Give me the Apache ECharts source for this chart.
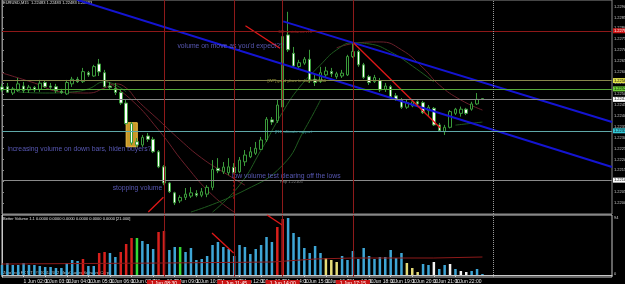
<!DOCTYPE html>
<html><head><meta charset="utf-8">
<script src="https://cdn.jsdelivr.net/npm/echarts@6/dist/echarts.min.js"></script>
<style>html,body{margin:0;padding:0;background:#000;}#c{width:625px;height:284px;}</style>
</head><body><div id="c"></div>
<script>
// ---------- DATA ----------
const symbolTitle = 'EURUSD,M15  1.22483 1.22483 1.22483 1.22483';
const slotCount = 114;
const tickLabels = ['1 Jun 2012','1 Jun 02:00','1 Jun 03:00','1 Jun 04:00','1 Jun 05:00','1 Jun 06:00','1 Jun 07:00','1 Jun 08:00','1 Jun 09:00','1 Jun 10:00','1 Jun 11:00','1 Jun 12:00','1 Jun 13:00','1 Jun 14:00','1 Jun 15:00','1 Jun 16:00','1 Jun 17:00','1 Jun 18:00','1 Jun 19:00','1 Jun 20:00','1 Jun 21:00','1 Jun 22:00','1 Jun 23:00'];
const tickEvery = 4;
const open = [1.22532,1.22533,1.22504,1.22515,1.22536,1.22518,1.22529,1.22521,1.22552,1.22536,1.22533,1.22512,1.22500,1.22546,1.22567,1.22556,1.22597,1.22582,1.22637,1.22597,1.22536,1.22526,1.22506,1.22458,1.22364,1.22281,1.22266,1.22307,1.22292,1.22235,1.22166,1.22092,1.22047,1.22010,1.22026,1.22032,1.22044,1.22036,1.22041,1.22072,1.22159,1.22143,1.22139,1.22164,1.22143,1.22189,1.22212,1.22228,1.22246,1.22289,1.22381,1.22377,1.22440,1.22770,1.22686,1.22625,1.22641,1.22659,1.22567,1.22556,1.22587,1.22602,1.22579,1.22582,1.22587,1.22671,1.22694,1.22633,1.22579,1.22556,1.22561,1.22521,1.22533,1.22491,1.22472,1.22439,1.22445,1.22464,1.22460,1.22423,1.22434,1.22358,1.22327,1.22347,1.22411,1.22411,1.22430,1.22430,1.22454,1.22478];
const close = [1.22518,1.22508,1.22523,1.22546,1.22515,1.22531,1.22518,1.22549,1.22533,1.22531,1.22515,1.22506,1.22552,1.22567,1.22556,1.22602,1.22587,1.22625,1.22601,1.22533,1.22529,1.22506,1.22458,1.22364,1.22275,1.22266,1.22301,1.22292,1.22235,1.22166,1.22092,1.22052,1.22001,1.22026,1.22041,1.22047,1.22036,1.22052,1.22072,1.22154,1.22148,1.22165,1.22166,1.22139,1.22197,1.22220,1.22235,1.22251,1.22289,1.22384,1.22371,1.22449,1.22763,1.22702,1.22628,1.22643,1.22659,1.22564,1.22552,1.22597,1.22605,1.22592,1.22592,1.22595,1.22671,1.22694,1.22633,1.22576,1.22552,1.22575,1.22518,1.22536,1.22487,1.22475,1.22439,1.22460,1.22464,1.22454,1.22414,1.22439,1.22358,1.22331,1.22347,1.22419,1.22430,1.22430,1.22411,1.22454,1.22475,1.22475];
const low = [1.22509,1.22504,1.22495,1.22509,1.22504,1.22504,1.22509,1.22509,1.22527,1.22523,1.22504,1.22500,1.22495,1.22532,1.22550,1.22550,1.22578,1.22578,1.22582,1.22530,1.22518,1.22495,1.22449,1.22358,1.22266,1.22257,1.22257,1.22280,1.22229,1.22160,1.22082,1.22046,1.21991,1.22000,1.22014,1.22023,1.22027,1.22027,1.22027,1.22059,1.22137,1.22133,1.22128,1.22137,1.22137,1.22170,1.22206,1.22220,1.22243,1.22280,1.22358,1.22367,1.22426,1.22692,1.22619,1.22619,1.22633,1.22550,1.22536,1.22550,1.22573,1.22578,1.22569,1.22573,1.22582,1.22665,1.22624,1.22569,1.22541,1.22550,1.22509,1.22509,1.22481,1.22469,1.22431,1.22431,1.22439,1.22449,1.22408,1.22399,1.22353,1.22327,1.22312,1.22342,1.22403,1.22396,1.22403,1.22423,1.22449,1.22474];
const high = [1.22546,1.22550,1.22532,1.22573,1.22555,1.22541,1.22536,1.22564,1.22559,1.22550,1.22546,1.22523,1.22564,1.22578,1.22578,1.22619,1.22605,1.22633,1.22660,1.22610,1.22555,1.22550,1.22518,1.22472,1.22371,1.22298,1.22312,1.22321,1.22303,1.22243,1.22174,1.22096,1.22052,1.22036,1.22069,1.22073,1.22059,1.22069,1.22082,1.22197,1.22206,1.22188,1.22206,1.22183,1.22211,1.22243,1.22257,1.22280,1.22303,1.22394,1.22394,1.22472,1.22780,1.22876,1.22715,1.22656,1.22669,1.22702,1.22587,1.22624,1.22624,1.22619,1.22601,1.22610,1.22679,1.22732,1.22702,1.22642,1.22587,1.22587,1.22573,1.22550,1.22541,1.22504,1.22481,1.22472,1.22472,1.22470,1.22468,1.22449,1.22440,1.22367,1.22358,1.22426,1.22436,1.22442,1.22436,1.22464,1.22504,1.22480];
const volume = [10,12,10,10,12,10,10,9,8,8, 7,7,12,15,14,16,9,9,22,23, 22,18,23,31,37,37,34,31,26,43, 44,25,28,28,23,27,15,16,19,30, 33,28,26,19,30,28,21,26,30,38, 33,48,56,57,42,38,27,22,29,22, 17,15,13,19,15,24,16,27,19,16, 18,18,25,17,22,12,7,3,11,10, 13,6,10,11,6,4,3,4,6,1];
const volType = ['n','n','n','n','n','n','n','n','n','n', 'n','n','n','n','n','c','n','n','c','c', 'n','n','c','c','c','h','n','n','n','c', 'c','n','n','h','n','n','n','n','n','n', 'n','n','n','n','n','n','n','n','n','n', 'n','c','c','n','n','n','n','n','n','n', 'l','l','l','n','n','n','n','n','n','n', 'n','n','n','n','n','l','l','l','n','n', 'w','n','n','w','n','w','w','n','n','n'];
const volAverage = [[0,11],[30,12],[50,13],[58,16],[65,17],[80,17],[89,18]];
const volAxisLabels = ['94', '0'];
const priceLevels = [1.22789, 1.22561, 1.22523, 1.22475, 1.22331, 1.22105];
const levelKinds = ['res', 'pivot', 'mid', 'bid', 'sup', 'pp'];
const markerBars = [30, 43, 52, 65];
const markerTimes = ['1 Jun 08:30', '1 Jun 11:45', '1 Jun 14:00', '1 Jun 17:15'];
const shiftBar = 91;
const channelUpper = [[52.1, 1.22832], [113, 1.22371]];
const channelLower = [[13.9, 1.22931], [113, 1.22165]];
const redTrend1 = [[45.1, 1.22812], [51.5, 1.22709]];
const redTrend2 = [[65.1, 1.22734], [81.2, 1.22344]];
const redTrend3 = [[27.1, 1.21959], [29.9, 1.22027]];
const testArrow = [[43, 1.22139], [43, 1.22014]];
const volArrow1 = [[38.9, 42], [42.9, 22]];
const volArrow2 = [[49.1, 60], [51.9, 50]];
const maroon1 = [[0,1.22596],[6,1.22550],[11,1.22509],[16,1.22504],[19,1.22527],[21,1.22546],[23,1.22527],[25,1.22472],[29,1.22381],[33,1.22289],[37,1.22206],[41,1.22142],[45,1.22082]];
const maroon2 = [[19,1.22564],[24,1.22472],[29,1.22335],[34,1.22174],[39,1.22036],[43,1.21959]];
const maroon3 = [[62,1.22711],[66,1.22734],[70,1.22738],[74,1.22702],[78,1.22619],[81,1.22541],[85,1.22472],[89,1.22426]];
const green1 = [[3,1.22509],[8,1.22504],[13,1.22509],[16,1.22523],[19,1.22555],[21,1.22541],[23,1.22509]];
const green2 = [[39,1.21959],[44,1.22082],[48,1.22243],[52,1.22417],[55,1.22527],[59,1.22633],[62,1.22702],[65,1.22734],[68,1.22729],[72,1.22692],[76,1.22628],[80,1.22555]];
const green3 = [[35,1.21959],[45,1.22059],[52,1.22174],[56,1.22335],[59,1.22472]];
const green4 = [[84,1.22357],[89,1.22371]];
const highlightBox = [[23.0, 1.22368], [25.06, 1.22258]];
const notes = [
  {text: 'volume on move as you\'d expect??', at: [32.5, 1.22718]},
  {text: 'increasing volume on down bars, hiden buyers?', at: [1.0, 1.22247]},
  {text: 'stopping volume', at: [20.5, 1.22068]},
  {text: 'low volume test clearing off the lows', at: [42.6, 1.22123]}
];
const lineTags = [
  {text: 'DH: resistance - Hi', at: [51.2, 1.22786], kind: 'res'},
  {text: '[WP] good place to drop? 1.2256', at: [49.2, 1.22558], kind: 'pivot'},
  {text: '[R1] ultimate support', at: [50.6, 1.22328], kind: 'sup'},
  {text: 'Pnp 1.22105', at: [51.5, 1.22098], kind: 'pp'}
];
const volTitle = 'Better Volume 1.1 0.0000 0.0000 0.0000 0.0000 0.0000 0.0000 [21.000]';
const volFooter = 'ZeroTech FX MT4 \u00a9 2001-2012 MetaQuotes Software Corp.';

// ---------- STYLE ----------
const volColors = {n:'#3ea6d6', c:'#d8201c', h:'#35d935', l:'#e4dc78', w:'#f4f4f4'};
const levelStyle = {
  res:{line:'#8e1818', bg:'#d01414', fg:'#ffffff'},
  pivot:{line:'#86864c', bg:'#e2e24a', fg:'#000000'},
  mid:{line:'#55a83a', bg:'#6fcf38', fg:'#000000'},
  bid:{line:'#8a8a8a', bg:'#ffffff', fg:'#000000'},
  sup:{line:'#5fa8a8', bg:'#35c8d8', fg:'#000000'},
  pp:{line:'#8a8a8a', bg:'#ffffff', fg:'#000000'}
};
const tagColors = {res:'#c83030', pivot:'#c8c84a', sup:'#40c8c8', pp:'#9a9a9a'};
const noteColor = '#6c6cdc';
const FONT = '"Liberation Sans", Arial, sans-serif';

const cats = Array.from({length: slotCount}, (_, i) => String(i));
const showTick = (idx) => idx % tickEvery === 0 && idx / tickEvery < tickLabels.length;

const chart = echarts.init(document.getElementById('c'), null, {width: 625, height: 284});

function lineSeries(data, color, width, z, xi, yi, extra) {
  return Object.assign({
    type: 'line', xAxisIndex: xi, yAxisIndex: yi, data: data, showSymbol: false, symbol: 'none',
    silent: true, z: z, lineStyle: {color: color, width: width}, animation: false
  }, extra || {});
}

const series = [];
series.push(lineSeries(maroon1, '#6a1f2a', 1, 1, 1, 0, {smooth: 0.5, markArea: {silent: true,
  itemStyle: {color: '#c8982a', borderColor: '#f0c040', borderWidth: 1},
  data: [[{xAxis: highlightBox[0][0], yAxis: highlightBox[0][1]}, {xAxis: highlightBox[1][0], yAxis: highlightBox[1][1]}]]}}));
series.push(lineSeries(maroon2, '#6a1f2a', 1, 1, 1, 0, {smooth: 0.5}));
series.push(lineSeries(maroon3, '#6a1f2a', 1, 1, 1, 0, {smooth: 0.5}));
series.push(lineSeries(green1, '#1f5a1f', 1, 1, 1, 0, {smooth: 0.5}));
series.push(lineSeries(green2, '#1f5a1f', 1, 1, 1, 0, {smooth: 0.5}));
series.push(lineSeries(green3, '#1f5a1f', 1, 1, 1, 0, {smooth: 0.5}));
series.push(lineSeries(green4, '#1f5a1f', 1, 1, 1, 0, {smooth: 0.5}));

const levelLines = priceLevels.map((p, k) => {
  const s = levelStyle[levelKinds[k]];
  return {yAxis: p, lineStyle: {color: s.line, width: 1, type: 'solid'},
    label: {show: true, position: 'end', distance: 1, formatter: p.toFixed(5), fontSize: 4, fontFamily: FONT,
      color: s.fg, backgroundColor: s.bg, padding: [1, 1, 0, 1]}};
});
const vLines = markerBars.map(b => ({xAxis: b, lineStyle: {color: '#8e1a1a', width: 1, type: 'solid'}, label: {show: false}}));
vLines.push({xAxis: shiftBar, lineStyle: {color: '#9a9a9a', width: 1, type: 'dotted'}, label: {show: false}});

series.push({
  type: 'candlestick', xAxisIndex: 0, yAxisIndex: 0, z: 2, barWidth: 3,
  data: open.map((o, i) => [o, close[i], low[i], high[i]]),
  itemStyle: {color: '#000000', color0: '#ffffff', borderColor: '#3a9a3a', borderColor0: '#3a9a3a', borderWidth: 1},
  markLine: {silent: true, symbol: ['none', 'none'], animation: false, precision: 5, data: levelLines.concat(vLines)}
});

series.push(lineSeries(channelUpper, '#1414d2', 2, 3, 1, 0));
series.push(lineSeries(channelLower, '#1414d2', 2, 3, 1, 0));
series.push(lineSeries(redTrend1, '#e01818', 1.3, 3, 1, 0));
series.push(lineSeries(redTrend2, '#e01818', 1.3, 3, 1, 0));
series.push(lineSeries(redTrend3, '#e01818', 1.3, 3, 1, 0));
series.push(lineSeries(testArrow, '#e01818', 1.3, 3, 1, 0, {lineStyle: {color: '#e01818', width: 1.3, type: [2, 2]}}));

const volVLines = markerBars.map((b, k) => ({xAxis: b, lineStyle: {color: '#8e1a1a', width: 1, type: 'solid'},
  label: {show: true, position: 'start', distance: 3, formatter: markerTimes[k], fontSize: 5, fontFamily: FONT,
    color: '#ffffff', backgroundColor: '#c81414', padding: [1, 4, 0, 4]}}));
volVLines.push({xAxis: shiftBar, lineStyle: {color: '#9a9a9a', width: 1, type: 'dotted'}, label: {show: false}});
series.push({
  type: 'bar', xAxisIndex: 2, yAxisIndex: 1, barWidth: 2.5, z: 2,
  data: volume.map((v, i) => ({value: v, itemStyle: {color: volColors[volType[i]]}})),
  markLine: {silent: true, symbol: ['none', 'none'], animation: false, data: volVLines}
});
series.push(lineSeries(volAverage, '#8e1a1a', 1, 3, 3, 1));
series.push(lineSeries(volArrow1, '#e01818', 1.3, 3, 3, 1));
series.push(lineSeries(volArrow2, '#e01818', 1.3, 3, 3, 1));

series.push({
  type: 'scatter', xAxisIndex: 1, yAxisIndex: 0, z: 4, symbolSize: 0, silent: true,
  data: notes.map(n => ({value: n.at, label: {show: true, position: 'right', distance: 0, formatter: n.text,
      color: noteColor, fontSize: 6.8, fontFamily: FONT}}))
    .concat(lineTags.map(t => ({value: t.at, label: {show: true, position: 'right', distance: 0, formatter: t.text,
      color: tagColors[t.kind], fontSize: 4, fontFamily: FONT}})))
});

const option = {
  animation: false,
  backgroundColor: '#000000',
  grid: [
    {left: 2, top: 0, width: 610, height: 214, show: true, borderColor: '#8c8c8c', borderWidth: 1, containLabel: false, outerBoundsMode: 'none'},
    {left: 2, top: 215, width: 610, height: 62, show: true, borderColor: '#c8c8c8', borderWidth: 1, containLabel: false, outerBoundsMode: 'none'}
  ],
  xAxis: [
    {type: 'category', gridIndex: 0, data: cats, boundaryGap: false, axisLine: {show: false}, axisTick: {show: false}, axisLabel: {show: false}, splitLine: {show: false}},
    {type: 'value', gridIndex: 0, min: 0, max: slotCount - 1, show: false},
    {type: 'category', gridIndex: 1, data: cats, boundaryGap: false,
      axisLine: {show: true, lineStyle: {color: '#c8c8c8'}},
      axisTick: {show: true, interval: showTick, length: 2, lineStyle: {color: '#c8c8c8'}},
      axisLabel: {show: true, interval: showTick, align: 'left', margin: 2, fontSize: 5, fontFamily: FONT, color: '#e6e6e6',
        formatter: (v, idx) => (showTick(idx) ? tickLabels[idx / tickEvery] : '')},
      splitLine: {show: false}},
    {type: 'value', gridIndex: 1, min: 0, max: slotCount - 1, show: false}
  ],
  yAxis: [
    {type: 'value', gridIndex: 0, position: 'right', min: 1.2195, max: 1.2293, interval: 0.0005,
      splitLine: {show: false}, axisLine: {show: true, lineStyle: {color: '#8c8c8c'}},
      axisTick: {show: true, length: 2, lineStyle: {color: '#8c8c8c'}},
      axisLabel: {fontSize: 4, fontFamily: FONT, color: '#c8c8c8', margin: 2, showMaxLabel: false, showMinLabel: false,
        overflow: 'none', hideOverlap: false, formatter: v => v.toFixed(5)}},
    {type: 'value', gridIndex: 1, position: 'right', min: -2, max: 60, splitLine: {show: false},
      axisLine: {show: true, lineStyle: {color: '#c8c8c8'}}, axisTick: {show: false}, axisLabel: {show: false}}
  ],
  graphic: [
    {type: 'text', x: 3, y: 1, silent: true, style: {text: symbolTitle, fill: '#e0e0e0', fontSize: 4, fontFamily: FONT}},
    {type: 'text', x: 3, y: 217, silent: true, style: {text: volTitle, fill: '#e0e0e0', fontSize: 4, fontFamily: FONT}},
    {type: 'text', x: 3, y: 271, silent: true, style: {text: volFooter, fill: '#d0d0d0', fontSize: 4, fontFamily: FONT}},
    {type: 'text', x: 614, y: 216, silent: true, style: {text: volAxisLabels[0], fill: '#d0d0d0', fontSize: 4, fontFamily: FONT}},
    {type: 'text', x: 614, y: 272, silent: true, style: {text: volAxisLabels[1], fill: '#d0d0d0', fontSize: 4, fontFamily: FONT}}
  ],
  series: series
};
chart.setOption(option);
</script>
</body></html>
